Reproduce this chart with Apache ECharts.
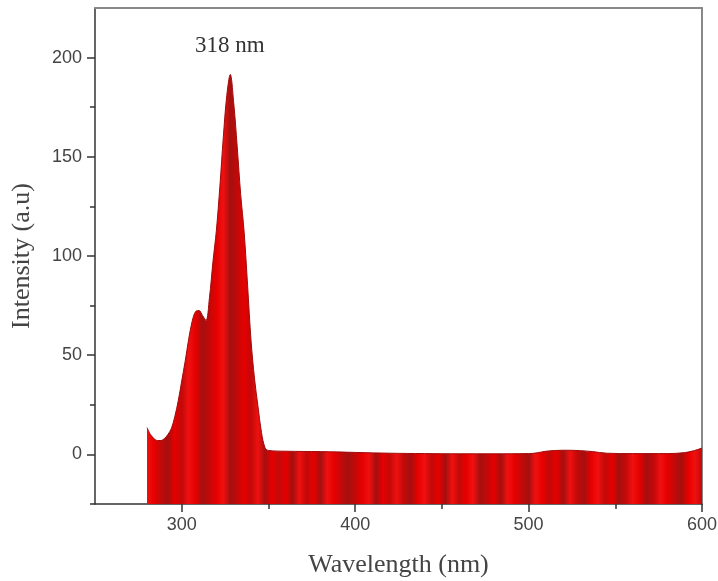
<!DOCTYPE html>
<html>
<head>
<meta charset="utf-8">
<script src="https://cdn.jsdelivr.net/npm/echarts@6/dist/echarts.min.js"></script>
<style>
  html, body { margin: 0; padding: 0; background: #fff; }
  #chart { width: 718px; height: 581px; }
</style>
</head>
<body>
<div id="chart"></div>
<script>
// wavelength (nm) and intensity (a.u)
const wavelength = [280, 282, 284, 286, 288, 290, 292, 294, 296, 298, 300, 302, 304, 306, 308, 310, 312, 314,
  316, 318, 320, 322, 324, 326, 328, 330, 332, 334, 336, 338, 340, 342, 344, 346, 348, 350,
  360, 380, 400, 420, 440, 460, 480, 500, 505, 510, 520, 530, 537, 545, 560, 580, 590, 595, 600];
const intensity = [13.5, 10, 8, 7, 7, 8, 10, 13, 19, 27, 37, 47, 58, 67, 72, 72.5, 70, 67.5,
  79, 97, 113, 135, 160, 181, 191.5, 177, 155, 131, 112, 85, 57, 38, 24, 11, 3.5, 2,
  1.6, 1.4, 1.0, 0.6, 0.4, 0.3, 0.3, 0.4, 0.8, 1.6, 2.1, 1.9, 1.4, 0.6, 0.4, 0.4, 0.9, 1.8, 3.2];

const xMajor = [300, 400, 500, 600];
const xMinor = [350, 450, 550];
const yMajor = [0, 50, 100, 150, 200];
const yMinor = [-25, 25, 75, 125, 175];
const peakLabel = '318 nm';

// stripy fill like the original scan
const stripeColors = { a: '#e60000', b: '#c20909', c: '#a50f0f', d: '#f01010' };
const stripePattern = 'dabcabdacbadcbabdcabacdbacdabcbadcabdbcadbacdbadcbacdabcdabacdbcadbacbdacbdabcadb';
const stops = [];
for (let i = 0; i < stripePattern.length; i++) {
  stops.push({ offset: i / (stripePattern.length - 1), color: stripeColors[stripePattern[i]] });
}

const chart = echarts.init(document.getElementById('chart'));

const tickFont = { fontFamily: 'Liberation Sans, Arial, sans-serif', fontSize: 18, color: '#444' };
const serif = 'Liberation Serif, Times New Roman, serif';
const tickLine = { color: '#333', width: 1.5 };

// helper for an extra axis that only carries tick marks
function tickAxis(min, max, pos, values, len) {
  return {
    type: 'value', min: min, max: max, position: pos,
    axisLine: { show: false, onZero: false },
    axisTick: { show: true, inside: false, length: len, customValues: values, lineStyle: tickLine },
    axisLabel: { show: false },
    splitLine: { show: false }
  };
}

chart.setOption({
  animation: false,
  grid: { left: 95, right: 16, top: 8, bottom: 77, outerBoundsMode: 'none' },
  xAxis: [
    {
      type: 'value', min: 250, max: 600, position: 'bottom',
      name: 'Wavelength (nm)', nameLocation: 'middle', nameGap: 48,
      nameTextStyle: { fontFamily: serif, fontSize: 26, color: '#444' },
      axisLine: { show: true, onZero: false, lineStyle: { color: '#333', width: 1.5 } },
      axisTick: { show: false },
      axisLabel: { ...tickFont, margin: 12, customValues: xMajor },
      splitLine: { show: false }
    },
    tickAxis(250, 600, 'bottom', xMajor, 8),
    tickAxis(250, 600, 'bottom', xMinor, 5),
    {
      type: 'value', min: 250, max: 600, position: 'top',
      axisLine: { show: true, onZero: false, lineStyle: { color: '#888', width: 2 } },
      axisTick: { show: false }, axisLabel: { show: false }, splitLine: { show: false }
    }
  ],
  yAxis: [
    {
      type: 'value', min: -25, max: 225, position: 'left',
      name: 'Intensity (a.u)', nameLocation: 'middle', nameGap: 60, nameRotate: 90,
      nameTextStyle: { fontFamily: serif, fontSize: 26, color: '#444' },
      axisLine: { show: true, onZero: false, lineStyle: { color: '#333', width: 1.5 } },
      axisTick: { show: false },
      axisLabel: { ...tickFont, margin: 13, customValues: yMajor },
      splitLine: { show: false }
    },
    tickAxis(-25, 225, 'left', yMajor, 8),
    tickAxis(-25, 225, 'left', yMinor, 5),
    {
      type: 'value', min: -25, max: 225, position: 'right',
      axisLine: { show: true, onZero: false, lineStyle: { color: '#888', width: 2 } },
      axisTick: { show: false }, axisLabel: { show: false }, splitLine: { show: false }
    }
  ],
  series: [
    {
      type: 'line',
      data: wavelength.map((w, i) => [w, intensity[i]]),
      smooth: 0.35,
      showSymbol: false,
      lineStyle: { color: '#a00a0a', width: 1 },
      areaStyle: {
        origin: 'start',
        opacity: 1,
        color: new echarts.graphic.LinearGradient(0, 0, 1, 0, stops)
      },
      markPoint: {
        symbol: 'circle', symbolSize: 0,
        data: [{ coord: [327.8, 206], value: peakLabel }],
        label: {
          show: true, position: 'inside', formatter: peakLabel,
          fontFamily: serif, fontSize: 23, color: '#333'
        }
      }
    }
  ]
});
</script>
</body>
</html>
